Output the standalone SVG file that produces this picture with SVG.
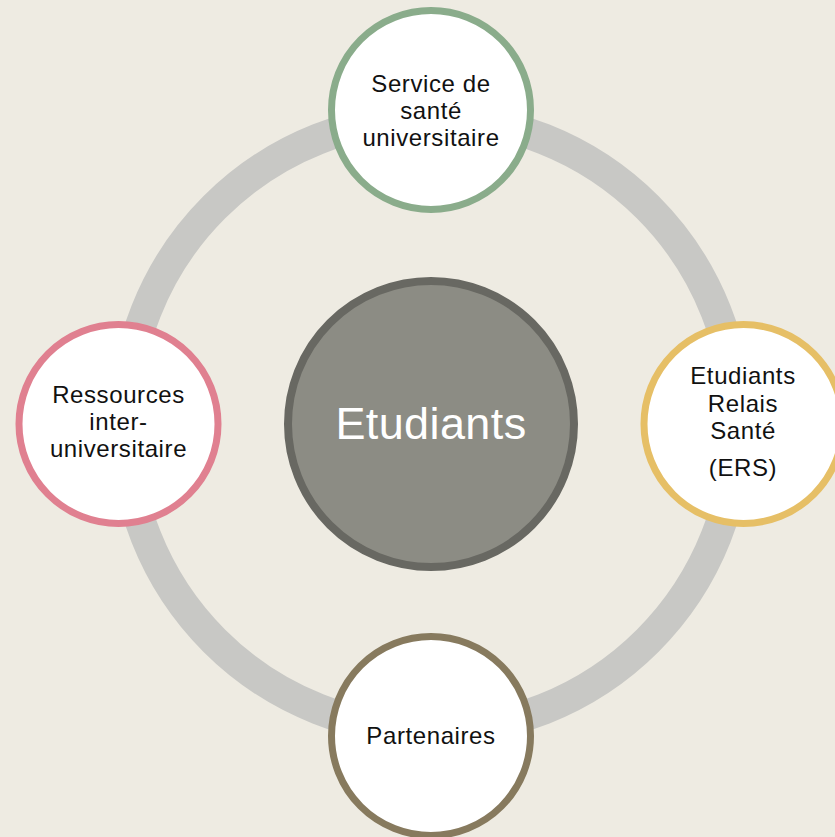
<svg xmlns="http://www.w3.org/2000/svg" width="835" height="837" viewBox="0 0 835 837">
  <style>
    .node { fill: #FFFFFF; stroke-width: 7; }
    .lbl { font-family: "Liberation Sans", Arial, sans-serif; font-size: 24px; letter-spacing: 0.6px; fill: #111111; text-anchor: middle; }
    .center-lbl { font-family: "Liberation Sans", Arial, sans-serif; font-size: 45px; letter-spacing: 0.4px; fill: #FFFFFF; text-anchor: middle; }
  </style>
  <rect x="0" y="0" width="835" height="837" fill="#EEEBE2"/>
  <g id="connectors">
    <circle cx="431" cy="424" r="306.5" fill="none" stroke="#C8C8C5" stroke-width="31"/>
  </g>
  <g id="center">
    <circle cx="431" cy="424" r="143" fill="#8C8C84" stroke="#686862" stroke-width="8"/>
    <text class="center-lbl" x="431" y="439">Etudiants</text>
  </g>
  <g id="node-top">
    <circle class="node" cx="431" cy="110" r="99.5" stroke="#8AAC8B"/>
    <text class="lbl" x="431" y="92">Service de</text>
    <text class="lbl" x="431" y="119">santé</text>
    <text class="lbl" x="431" y="146">universitaire</text>
  </g>
  <g id="node-right">
    <circle class="node" cx="743.5" cy="424" r="99.5" stroke="#E6BF66"/>
    <text class="lbl" x="743" y="384">Etudiants</text>
    <text class="lbl" x="743" y="412">Relais</text>
    <text class="lbl" x="743" y="439">Santé</text>
    <text class="lbl" x="743" y="476">(ERS)</text>
  </g>
  <g id="node-bottom">
    <circle class="node" cx="431" cy="736" r="99.5" stroke="#877A5E"/>
    <text class="lbl" x="431" y="744">Partenaires</text>
  </g>
  <g id="node-left">
    <circle class="node" cx="118.5" cy="424" r="99.5" stroke="#E08090"/>
    <text class="lbl" x="118.5" y="403">Ressources</text>
    <text class="lbl" x="118.5" y="430">inter-</text>
    <text class="lbl" x="118.5" y="457">universitaire</text>
  </g>
</svg>
